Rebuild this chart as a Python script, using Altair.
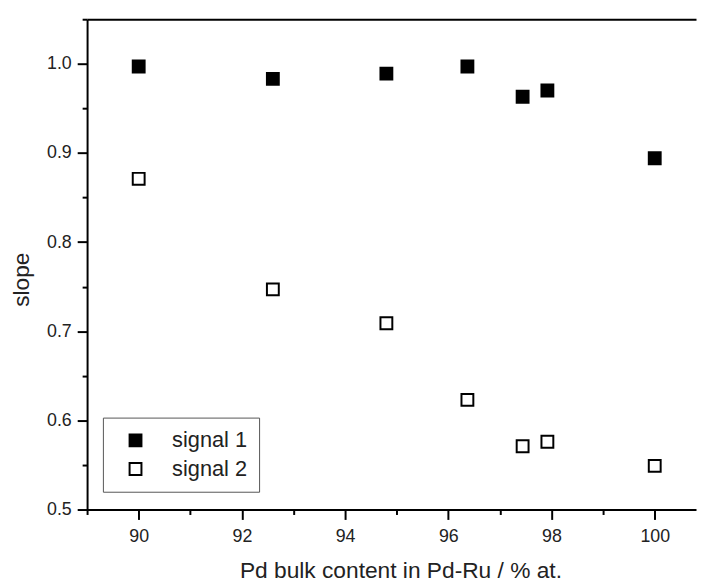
import altair as alt
import pandas as pd

# Data
pd_content = [90, 92.6, 94.8, 96.37, 97.44, 97.92, 100]
signal_1 = [0.997, 0.983, 0.989, 0.997, 0.963, 0.970, 0.894]
signal_2 = [0.871, 0.747, 0.709, 0.623, 0.571, 0.576, 0.549]
series_names = ["signal 1", "signal 2"]

x_major = [90, 92, 94, 96, 98, 100]
x_minor = [89, 91, 93, 95, 97, 99]
y_major = [0.5, 0.6, 0.7, 0.8, 0.9, 1.0]
y_minor = [0.55, 0.65, 0.75, 0.85, 0.95, 1.05]

rows = []
for xv, a, b in zip(pd_content, signal_1, signal_2):
    rows.append({"x": xv, "value": a, "series": series_names[0]})
    rows.append({"x": xv, "value": b, "series": series_names[1]})
df = pd.DataFrame(rows)

FONT = "Liberation Sans"
TXT = "#222222"

xscale = alt.Scale(domain=[89, 100.8], nice=False, zero=False)
yscale = alt.Scale(domain=[0.5, 1.05], nice=False, zero=False)

major = alt.Chart(df).mark_point(
    shape="square", size=144, filled=True, opacity=1, strokeWidth=2, stroke="black"
).encode(
    x=alt.X("x:Q", scale=xscale, axis=alt.Axis(
        orient="bottom", values=x_major, tickSize=10, tickWidth=2, domainWidth=2,
        domainColor="black", tickColor="black", labelFontSize=18, labelColor=TXT,
        labelFont=FONT, labelPadding=8, labelFlush=False, grid=False,
        title="Pd bulk content in Pd-Ru / % at.", titleFont=FONT, titleFontSize=23,
        titleFontWeight="normal", titleColor=TXT, titleX=317, titleY=69,
        titleBaseline="alphabetic", titleAlign="center")),
    y=alt.Y("value:Q", scale=yscale, axis=alt.Axis(
        orient="left", values=y_major, format=".1f", tickSize=10, tickWidth=2,
        domainWidth=2, domainColor="black", tickColor="black", labelFontSize=18,
        labelColor=TXT, labelFont=FONT, labelPadding=6, labelFlush=False, grid=False,
        title="slope", titleFont=FONT, titleFontSize=23, titleFontWeight="normal",
        titleColor=TXT, titleX=-59, titleY=263, titleAngle=270,
        titleBaseline="alphabetic", titleAlign="center")),
    fill=alt.Fill("series:N", scale=alt.Scale(domain=series_names, range=["black", "white"]),
                  legend=alt.Legend(
                      orient="none", legendX=16, legendY=403, title=None,
                      strokeColor="#555555", padding=12, labelFontSize=22,
                      labelFont=FONT, labelColor=TXT, rowPadding=7,
                      symbolType="square", symbolSize=144, symbolStrokeColor="black",
                      symbolStrokeWidth=2, symbolOpacity=1, symbolOffset=10,
                      labelOffset=26, labelExpr="datum.label + '\u00a0\u00a0'")),
)

minor = alt.Chart(df).mark_point(opacity=0).encode(
    x=alt.X("x:Q", scale=xscale, axis=alt.Axis(
        orient="bottom", values=x_minor, tickSize=5, tickWidth=2, tickColor="black",
        domain=False, labels=False, grid=False, title=None)),
    y=alt.Y("value:Q", scale=yscale, axis=alt.Axis(
        orient="left", values=y_minor, tickSize=5, tickWidth=2, tickColor="black",
        domain=False, labels=False, grid=False, title=None)),
)

top = alt.Chart(df).mark_point(opacity=0).encode(
    x=alt.X("x:Q", scale=xscale, axis=alt.Axis(
        orient="top", ticks=False, labels=False, domain=True, domainWidth=2,
        domainColor="black", grid=False, title=None)),
    y=alt.Y("value:Q", scale=yscale, axis=None),
)

chart = alt.layer(major, minor, top).resolve_axis(x="independent", y="independent").properties(
    width=616, height=496,
    autosize=alt.AutoSizeParams(type="none"),
    padding={"left": 80, "top": 8, "right": 1, "bottom": 74},
).configure_view(stroke=None)

chart.save("out.html", embed_options={"renderer": "svg", "actions": False})
